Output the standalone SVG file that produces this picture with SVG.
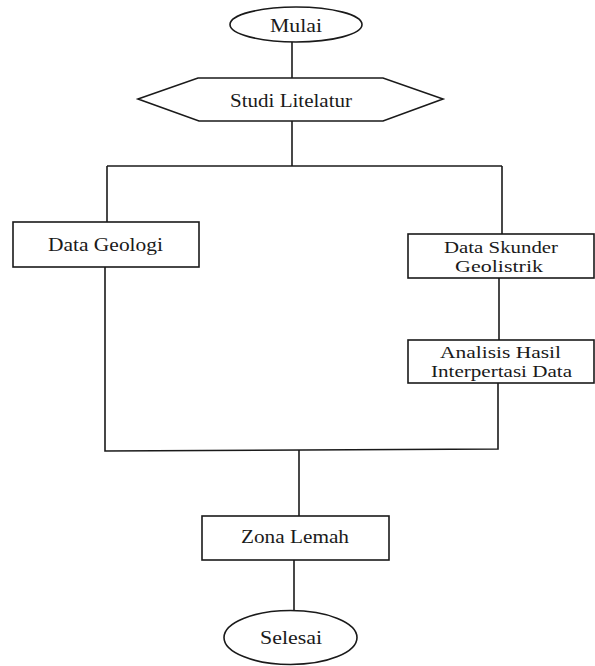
<svg xmlns="http://www.w3.org/2000/svg" width="595" height="666" viewBox="0 0 595 666">
<style>
.s{fill:#fff;stroke:#1a1a1a;stroke-width:1.6}
.c{fill:none;stroke:#1a1a1a;stroke-width:1.6}
text{font-family:"Liberation Serif","Times New Roman",serif;font-size:18px;fill:#1a1a1a}
.t2{font-size:16.5px}
</style>
<rect width="595" height="666" fill="#fff"/>
<g id="connectors">
<path class="c" d="M292,42 V78"/>
<path class="c" d="M292,121 V166"/>
<path class="c" d="M107,166 H502"/>
<path class="c" d="M107,166 V222"/>
<path class="c" d="M502,166 V234"/>
<path class="c" d="M499,278 V340"/>
<path class="c" d="M105,267 V451 L498,449 V383"/>
<path class="c" d="M299,450 V516"/>
<path class="c" d="M294,560 V610"/>
</g>
<g id="mulai">
<ellipse class="s" cx="296" cy="24.5" rx="66" ry="17.5"/>
<text x="270" y="32" textLength="52" lengthAdjust="spacingAndGlyphs">Mulai</text>
</g>
<g id="studi">
<polygon class="s" points="138,99 198,78 383,78 443,99 383,121 199,121"/>
<text x="230" y="107" textLength="122" lengthAdjust="spacingAndGlyphs">Studi Litelatur</text>
</g>
<g id="geologi">
<rect class="s" x="13" y="222" width="186" height="45"/>
<text x="48" y="251" textLength="115" lengthAdjust="spacingAndGlyphs">Data Geologi</text>
</g>
<g id="skunder">
<rect class="s" x="408" y="234" width="186" height="44"/>
<text class="t2" x="444" y="253" textLength="114" lengthAdjust="spacingAndGlyphs">Data Skunder</text>
<text class="t2" x="455" y="272" textLength="88" lengthAdjust="spacingAndGlyphs">Geolistrik</text>
</g>
<g id="analisis">
<rect class="s" x="408" y="340" width="186" height="43"/>
<text class="t2" x="440" y="358" textLength="121" lengthAdjust="spacingAndGlyphs">Analisis Hasil</text>
<text class="t2" x="431" y="377" textLength="141" lengthAdjust="spacingAndGlyphs">Interpertasi Data</text>
</g>
<g id="zona">
<rect class="s" x="202" y="516" width="187" height="44"/>
<text x="241" y="543" textLength="108" lengthAdjust="spacingAndGlyphs">Zona Lemah</text>
</g>
<g id="selesai">
<ellipse class="s" cx="290.5" cy="637.5" rx="66.5" ry="27"/>
<text x="260" y="644" textLength="62" lengthAdjust="spacingAndGlyphs">Selesai</text>
</g>
</svg>
